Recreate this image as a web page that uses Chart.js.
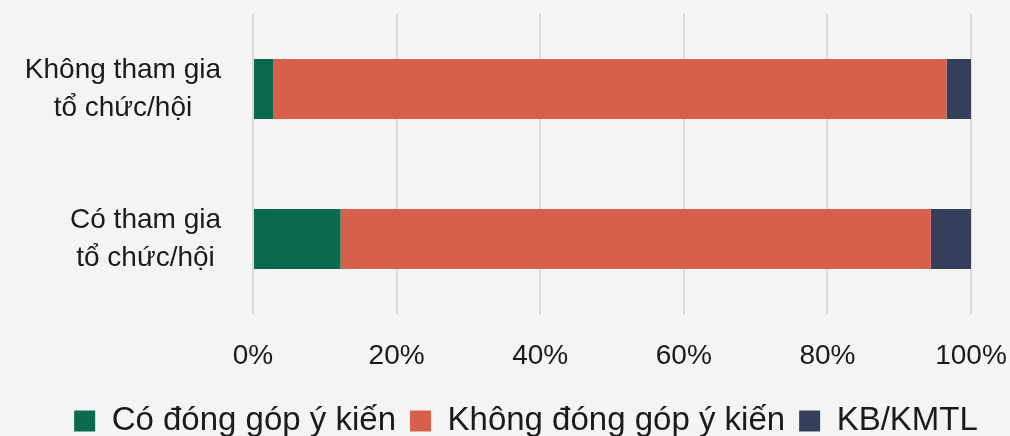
<!DOCTYPE html>
<html>
<head>
<meta charset="utf-8">
<script src="https://cdn.jsdelivr.net/npm/chart.js@4"></script>
<style>
  html, body { margin: 0; padding: 0; background: #f4f4f4; }
  #wrap { width: 1010px; height: 436px; }
</style>
</head>
<body>
<div id="wrap"><canvas id="chart"></canvas></div>
<script>
// du lieu doc tu hinh
var categories = [['Không tham gia', 'tổ chức/hội'], ['Có tham gia', 'tổ chức/hội']];
var seriesNames = ['Có đóng góp ý kiến', 'Không đóng góp ý kiến', 'KB/KMTL'];
var coYKien = [2.8, 12.2];
var khongYKien = [93.8, 82.2];
var kbKmtl = [3.4, 5.6];
var xTicks = [0, 20, 40, 60, 80, 100];

var colors = ['#0a6a4f', '#d6604b', '#353f5c'];
var fontFamily = '"Liberation Sans", Arial, sans-serif';

// ve nhan truc y: moi dong can giua trong khoi, khoi can phai
var yLabels = {
    id: 'yLabels',
    afterDraw: function (chart) {
        var ctx = chart.ctx;
        var yScale = chart.scales.y;
        var lineH = 38;
        ctx.save();
        ctx.font = '28px ' + fontFamily;
        ctx.fillStyle = '#1a1a1a';
        ctx.textAlign = 'center';
        ctx.textBaseline = 'middle';
        categories.forEach(function (lines, i) {
            var maxW = 0;
            lines.forEach(function (l) { maxW = Math.max(maxW, ctx.measureText(l).width); });
            var cx = chart.chartArea.left - 32 - maxW / 2;
            var cy = yScale.getPixelForValue(i);
            lines.forEach(function (l, k) {
                ctx.fillText(l, cx, cy - (lines.length - 1) * lineH / 2 + k * lineH);
            });
        });
        ctx.restore();
    }
};

var chart = new Chart(document.getElementById('chart'), {
    type: 'bar',
    data: {
        labels: categories,
        datasets: [
            { label: seriesNames[0], data: coYKien, backgroundColor: colors[0] },
            { label: seriesNames[1], data: khongYKien, backgroundColor: colors[1] },
            { label: seriesNames[2], data: kbKmtl, backgroundColor: colors[2] }
        ]
    },
    options: {
        indexAxis: 'y',
        responsive: true,
        maintainAspectRatio: false,
        animation: false,
        layout: { padding: { top: 14, left: 42, right: 0, bottom: -11.5 } },
        datasets: { bar: { categoryPercentage: 0.4, barPercentage: 1 } },
        scales: {
            x: {
                stacked: true,
                min: 0,
                max: 100,
                afterBuildTicks: function (scale) {
                    scale.ticks = xTicks.map(function (v) { return { value: v }; });
                },
                afterFit: function (scale) {
                    scale.height = 76.5;
                    scale.paddingRight = 39;
                },
                grid: { color: '#d9d9d9', lineWidth: 2, drawTicks: false },
                border: { display: false },
                ticks: {
                    padding: 25,
                    color: '#1a1a1a',
                    font: { family: fontFamily, size: 28 },
                    callback: function (v) { return v + '%'; }
                }
            },
            y: {
                stacked: true,
                afterFit: function (scale) { scale.width = 211; },
                grid: { display: false },
                border: { display: false },
                ticks: { display: false }
            }
        },
        plugins: {
            legend: {
                position: 'bottom',
                labels: {
                    boxWidth: 21,
                    boxHeight: 21,
                    padding: 14,
                    color: '#1a1a1a',
                    font: { family: fontFamily, size: 33 }
                }
            },
            tooltip: { enabled: false }
        }
    },
    plugins: [yLabels]
});
</script>
</body>
</html>
